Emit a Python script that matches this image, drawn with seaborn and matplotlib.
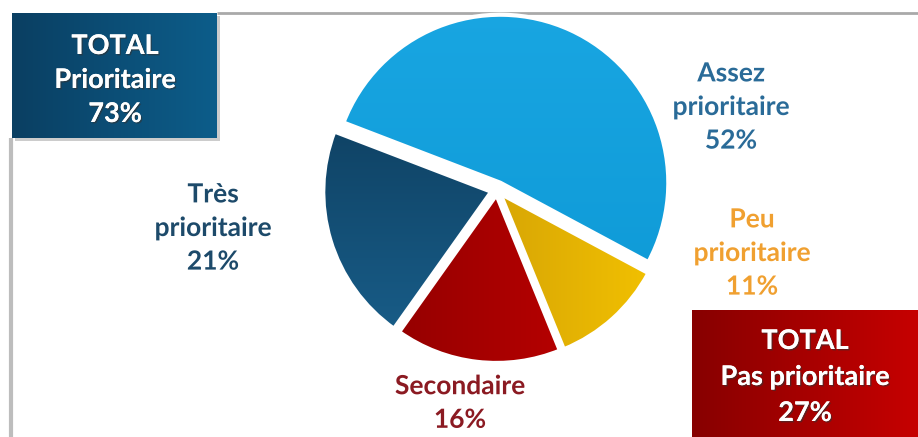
import numpy as np
import matplotlib
matplotlib.use("Agg")
import matplotlib.pyplot as plt
import matplotlib.patheffects as pe
from matplotlib.colors import LinearSegmentedColormap
from matplotlib.patches import Rectangle
import seaborn as sns

# ---- data ----
categories = ["Assez prioritaire", "Peu prioritaire", "Secondaire", "Très prioritaire"]
label_text = ["Assez\nprioritaire", "Peu\nprioritaire", "Secondaire", "Très\nprioritaire"]
values = [52, 11, 16, 21]
total_labels = ["TOTAL\nPrioritaire", "TOTAL\nPas prioritaire"]
total_values = [73, 27]

# ---- style ----
sns.set_theme(style="white")
plt.rcParams["font.family"] = ["Lato", "DejaVu Sans"]

W, H = 918, 437
fig = plt.figure(figsize=(W / 100, H / 100), dpi=100)
ax = fig.add_axes([0, 0, 1, 1])

def Y(y):  # pixel-from-top -> data
    return H - y

# gradient colours per slice (start, end) and gradient direction
grad = [
    ("#19a6e2", "#0c97d4", "v"),
    ("#b8860b", "#f7c600", "h"),
    ("#850000", "#cc0000", "h"),
    ("#0a3350", "#1a628f", "v"),
]
explode = [8, 5, 5, 6]  # offsets in pixels
cx, cy, R = 497, Y(190), 168

wedges, _ = ax.pie(values, startangle=159, counterclock=False, explode=explode,
                   center=(cx, cy), radius=R, colors=[g[1] for g in grad],
                   wedgeprops=dict(edgecolor="white", linewidth=3))

for w, (c0, c1, d) in zip(wedges, grad):
    cmap = LinearSegmentedColormap.from_list("g", [c0, c1])
    n = 256
    if d == "h":
        arr = np.tile(np.linspace(0, 1, n), (n, 1))
    else:
        arr = np.tile(np.linspace(0, 1, n)[:, None], (1, n))
    im = ax.imshow(arr, cmap=cmap, extent=(cx - R - 20, cx + R + 20, cy - R - 20, cy + R + 20),
                   origin="upper" if d == "v" else "lower", zorder=w.get_zorder() + 0.1,
                   interpolation="bilinear", aspect="auto")
    im.set_clip_path(w)
    w.set_facecolor("none")
    w.set_zorder(w.get_zorder() + 0.2)

# ---- slice labels ----
label_pos = [(731, 107), (752, 253), (460, 403), (213, 228)]
label_col = ["#2a6b98", "#f0a030", "#8b1a22", "#1d4a6a"]
for txt, v, (x, y), col in zip(label_text, values, label_pos, label_col):
    ax.text(x, Y(y), f"{txt}\n{v}%", ha="center", va="center", fontsize=19,
            fontweight="bold", color=col, linespacing=1.48, zorder=10,
            path_effects=[pe.withStroke(linewidth=3, foreground="white")])

# ---- frame lines ----
ax.plot([217, W], [Y(13), Y(13)], color="#a9a9a9", lw=2, zorder=1, solid_capstyle="butt")
ax.plot([11, 11], [Y(138), Y(H)], color="#bdbdbd", lw=3, zorder=1, solid_capstyle="butt")

# ---- total boxes ----
boxes = [((12, 13, 205, 125), ("#0a3f62", "#0d5d8a"), (115, 80)),
         ((692, 310, 226, 127), ("#870000", "#c60000"), (805, 377))]
for (bx, by, bw, bh), (c0, c1), _ in boxes:
    ax.add_patch(Rectangle((bx + 3, Y(by + bh + 3)), bw, bh, color="#9a9a9a", alpha=0.5, zorder=4, lw=0))
    rect = Rectangle((bx, Y(by + bh)), bw, bh, facecolor=c1, edgecolor="none", zorder=5)
    ax.add_patch(rect)
    cmap = LinearSegmentedColormap.from_list("b", [c0, c1])
    arr = np.tile(np.linspace(0, 1, 256), (256, 1))
    im = ax.imshow(arr, cmap=cmap, extent=(bx, bx + bw, Y(by + bh), Y(by)), origin="lower",
                   zorder=5.5, aspect="auto", interpolation="bilinear")
    im.set_clip_path(rect)

for lab, v, (_, _, (tx, ty)), ls in zip(total_labels, total_values, boxes, [1.5, 1.6]):
    ax.text(tx, Y(ty), f"{lab}\n{v}%", ha="center", va="center", fontsize=19.5,
            fontweight="bold", color="white", linespacing=ls, zorder=10,
            path_effects=[pe.withSimplePatchShadow(offset=(1, -1), shadow_rgbFace="#333333", alpha=0.6),
                          pe.Normal()])

ax.set_xlim(0, W)
ax.set_ylim(0, H)
ax.set_aspect("auto")
ax.axis("off")
fig.savefig("out.png", dpi=100, facecolor="white")
